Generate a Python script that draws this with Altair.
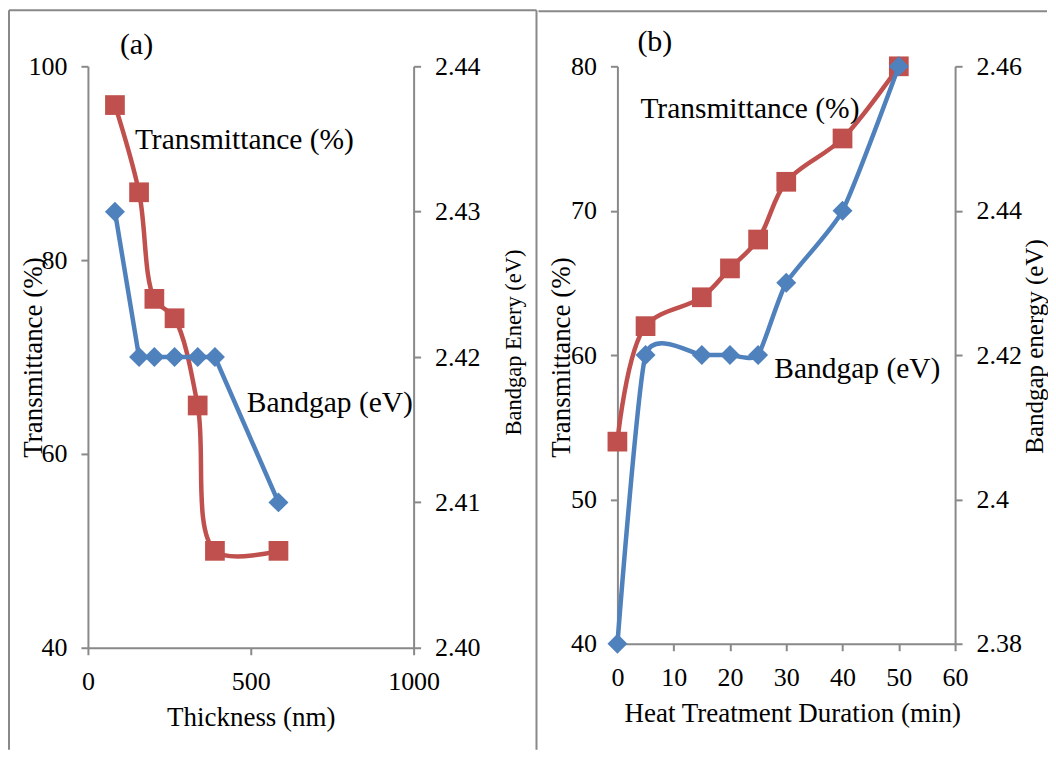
import altair as alt
import pandas as pd

# panel (a): thickness series
thickness = [83, 157, 204, 266, 337, 390, 585]
trans_a = [96, 87, 76, 74, 65, 50, 50]
bandgap_a = [2.43, 2.42, 2.42, 2.42, 2.42, 2.42, 2.41]

# panel (b): heat treatment series
duration = [0, 5, 15, 20, 25, 30, 40, 50]
trans_b = [54, 62, 64, 66, 68, 72, 75, 80]
bandgap_b = [2.38, 2.42, 2.42, 2.42, 2.42, 2.43, 2.44, 2.46]

panel_tags = ["(a)", "(b)"]
series_names = ["Transmittance (%)", "Bandgap (eV)"]

RED = "#C0504D"
BLUE = "#4F81BD"
GREY = "#898989"
FONT = "Liberation Serif, DejaVu Serif, serif"


def axis(**kw):
    opts = dict(grid=False, domainColor=GREY, domainWidth=2, tickColor=GREY, tickWidth=2,
                tickSize=7, labelFont=FONT, labelFontSize=26, labelColor="black",
                labelPadding=14, labelFlush=False, titleFont=FONT, titleFontSize=27,
                titleFontWeight="normal", titleColor="black", titleBaseline="middle",
                titleAlign="center")
    opts.update(kw)
    return alt.Axis(**opts)


def text(label, x, y, size=29.5):
    return alt.Chart(pd.DataFrame({"t": [label]})).mark_text(
        font=FONT, fontSize=size, align="left", baseline="middle", color="black"
    ).encode(text="t:N", x=alt.value(x), y=alt.value(y))


def rule(x, x2, y, y2):
    return alt.Chart(pd.DataFrame({"k": [0]})).mark_rule(color=GREY, strokeWidth=2).encode(
        x=alt.value(x), x2=alt.value(x2), y=alt.value(y), y2=alt.value(y2))


def panel(df, xenc, tscale, taxis, bscale, baxis, blue_line, extras, w, h):
    base = alt.Chart(df).encode(x=xenc)
    ty = alt.Y("t:Q", scale=tscale, axis=taxis)
    by = alt.Y("b:Q", scale=bscale, axis=baxis)
    red = alt.layer(
        base.mark_line(color=RED, strokeWidth=4.5, interpolate="catmull-rom").encode(y=ty),
        base.mark_point(shape="square", filled=True, size=390, color=RED, opacity=1).encode(y=ty),
    )
    blue = alt.layer(
        base.mark_line(color=BLUE, strokeWidth=4.5, **blue_line).encode(y=by),
        base.mark_point(shape="diamond", filled=True, size=400, color=BLUE, opacity=1).encode(y=by),
    )
    return alt.layer(red, blue, *extras).resolve_scale(y="independent").properties(width=w, height=h)


df_a = pd.DataFrame({"x": thickness, "t": trans_a, "b": bandgap_a})
df_b = pd.DataFrame({"x": duration, "t": trans_b, "b": bandgap_b})

pa = panel(
    df_a,
    alt.X("x:Q", scale=alt.Scale(domain=[0, 1000], nice=False),
          axis=axis(values=[0, 500, 1000], format="d", title="Thickness (nm)", titleY=70)),
    alt.Scale(domain=[40, 100], nice=False, zero=False),
    axis(values=[40, 60, 80, 100], title="Transmittance (%)", titleX=-54, titleY=291,
         titleAngle=270),
    alt.Scale(domain=[2.40, 2.44], nice=False, zero=False),
    axis(orient="right", values=[2.40, 2.41, 2.42, 2.43, 2.44], format=".2f",
         title="Bandgap Enery (eV)", titleX=100, titleY=276, titleAngle=270, titleFontSize=22.5),
    dict(interpolate="linear"),
    [text(panel_tags[0], 32, -21, 30), text(series_names[0], 47, 74), text(series_names[1], 159, 337),
     rule(-79, -79, -56, 684), rule(-79, 449, -56, -56), rule(449, 449, -56, 684)],
    326, 582,
)

pb = panel(
    df_b,
    alt.X("x:Q", scale=alt.Scale(domain=[0, 60], nice=False),
          axis=axis(values=[0, 10, 20, 30, 40, 50, 60], title="Heat Treatment Duration (min)",
                    titleX=175, titleY=70)),
    alt.Scale(domain=[40, 80], nice=False, zero=False),
    axis(values=[40, 50, 60, 70, 80], title="Transmittance (%)", titleX=-56, titleY=291,
         titleAngle=270),
    alt.Scale(domain=[2.38, 2.46], nice=False, zero=False),
    axis(orient="right", values=[2.38, 2.40, 2.42, 2.44, 2.46], format="~g",
         title="Bandgap energy (eV)", titleX=79, titleY=280, titleAngle=270, titleFontSize=25),
    dict(interpolate="cardinal", tension=0.45),
    [text(panel_tags[1], 20, -24, 30), text(series_names[0], 23, 43), text(series_names[1], 157, 303),
     rule(-79, 430, -55, -55)],
    338, 578,
)

chart = alt.hconcat(pa, pb, spacing=0).properties(
    padding={"left": 0, "top": 1, "right": 0, "bottom": 0}
).configure_view(strokeWidth=0)

chart.save("out.html", embed_options={"renderer": "svg", "actions": False})
